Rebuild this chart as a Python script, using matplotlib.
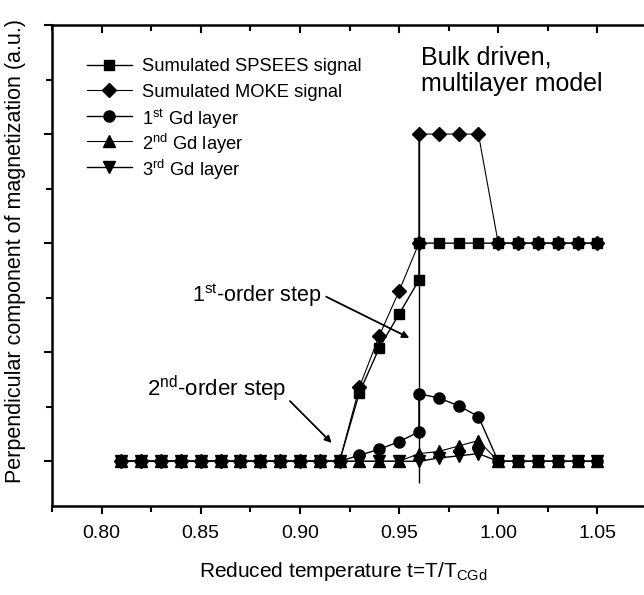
import numpy as np
import matplotlib
matplotlib.use("Agg")
import matplotlib.pyplot as plt
from matplotlib.ticker import MultipleLocator, FormatStrFormatter, NullFormatter

plt.rcParams['font.family'] = ['Liberation Sans', 'DejaVu Sans']
plt.rcParams['mathtext.fontset'] = 'custom'
plt.rcParams['mathtext.rm'] = 'Liberation Sans'
plt.rcParams['mathtext.it'] = 'Liberation Sans'

# reduced temperature grid (0.96 appears twice where a series jumps)
t_low = [0.81, 0.82, 0.83, 0.84, 0.85, 0.86, 0.87, 0.88, 0.89, 0.90, 0.91, 0.92]
t_mid = [0.93, 0.94, 0.95, 0.96]
t_high = [0.96, 0.97, 0.98, 0.99, 1.00, 1.01, 1.02, 1.03, 1.04, 1.05]
t_jump = t_low + t_mid + t_high
t_all = t_low + t_mid + t_high[1:]

spsees = [0] * 12 + [0.63, 1.04, 1.35, 1.66] + [2.0, 2.0, 2.0, 2.0, 2.0, 2.0, 2.0, 2.0, 2.0, 2.0]
moke = [0] * 12 + [0.68, 1.15, 1.56, 2.0] + [3.0, 3.0, 3.0, 3.0, 2.0, 2.0, 2.0, 2.0, 2.0, 2.0]
gd1 = [0] * 12 + [0.055, 0.11, 0.18, 0.27] + [0.62, 0.58, 0.51, 0.41, 0, 0, 0, 0, 0, 0]
gd2 = [0] * 12 + [0.0, 0.0, 0.0, 0.07, 0.09, 0.14, 0.19, 0, 0, 0, 0, 0, 0]
gd3 = [0] * 12 + [0.0, 0.0, 0.0, 0.0, 0.03, 0.05, 0.07, 0, 0, 0, 0, 0, 0]

labels = ['Sumulated SPSEES signal', 'Sumulated MOKE signal', r'1$^{\mathrm{st}}$ Gd layer',
          r'2$^{\mathrm{nd}}$ Gd layer', r'3$^{\mathrm{rd}}$ Gd layer']
markers = ['s', 'D', 'o', '^', 'v']
sizes = [7, 7, 8, 8, 8]
widths = [1, 0.8, 1, 0.8, 1]

t_step = 0.96
step_line = (-0.2, 3.0)

fig = plt.figure(figsize=(6.44, 5.95), dpi=100)
ax = fig.add_axes([52 / 644, 89 / 595, 595 / 644, 481 / 595])

series = [(t_jump, spsees), (t_jump, moke), (t_jump, gd1), (t_all, gd2), (t_all, gd3)]
for (tx, ty), m, s, w in zip(series, markers, sizes, widths):
    ax.plot(tx, ty, 'k-', marker=m, ms=s, lw=w)
ax.vlines(t_step, step_line[0], step_line[1], colors='k', lw=1)

# legend drawn row by row so the spacing stays even
for i, (lab, m, s, w) in enumerate(zip(labels, markers, sizes, widths)):
    y = 0.917 - i * 0.053
    ax.plot([0.059, 0.134], [y, y], 'k-', lw=w, transform=ax.transAxes, clip_on=False)
    ax.plot([0.0965], [y], 'k', marker=m, ms=s, transform=ax.transAxes, clip_on=False)
    ax.text(0.151, y, lab, transform=ax.transAxes, ha='left', va='center_baseline', fontsize=13.2)

arrow = dict(arrowstyle='-|>', color='k', lw=1.3, mutation_scale=10)
ax.annotate('', xy=(0.9564, 1.12), xytext=(0.912, 1.52), arrowprops=arrow)
ax.text(0.911, 1.52, r'1$^{\mathrm{st}}$-order step', ha='right', va='center', fontsize=15.5)
ax.annotate('', xy=(0.917, 0.15), xytext=(0.894, 0.57), arrowprops=arrow)
ax.text(0.893, 0.66, r'2$^{\mathrm{nd}}$-order step', ha='right', va='center', fontsize=16)

ax.text(0.961, 3.58, 'Bulk driven,\nmultilayer model', ha='left', va='center',
        fontsize=18, linespacing=1.1)

ax.set_xlim(0.775, 1.075)
ax.set_ylim(-0.41, 4.0)
ax.xaxis.set_major_locator(MultipleLocator(0.05))
ax.xaxis.set_minor_locator(MultipleLocator(0.025))
ax.xaxis.set_major_formatter(FormatStrFormatter('%.2f'))
ax.yaxis.set_major_locator(MultipleLocator(1))
ax.yaxis.set_minor_locator(MultipleLocator(0.5))
ax.yaxis.set_major_formatter(NullFormatter())

for s in ax.spines.values():
    s.set_linewidth(1.8)
ax.tick_params(which='both', top=True, right=True, labelsize=14, width=1.5, direction='out')
ax.tick_params(which='major', length=6)
ax.tick_params(which='minor', length=4)
ax.tick_params(axis='x', pad=8)
# inward ticks on top and right
for tick in ax.xaxis.get_major_ticks() + ax.xaxis.get_minor_ticks():
    tick.tick2line.set_marker(3)
for tick in ax.yaxis.get_major_ticks() + ax.yaxis.get_minor_ticks():
    tick.tick2line.set_marker(1)

ax.set_xlabel(r'Reduced temperature t=T/T$_{\mathrm{CGd}}$', fontsize=15)
ax.set_ylabel('Perpendicular component of magnetization (a.u.)', fontsize=15.5)
ax.xaxis.set_label_coords(0.49, -0.112)
ax.yaxis.set_label_coords(-0.044, 0.53)

plt.savefig('out.png', dpi=100)
